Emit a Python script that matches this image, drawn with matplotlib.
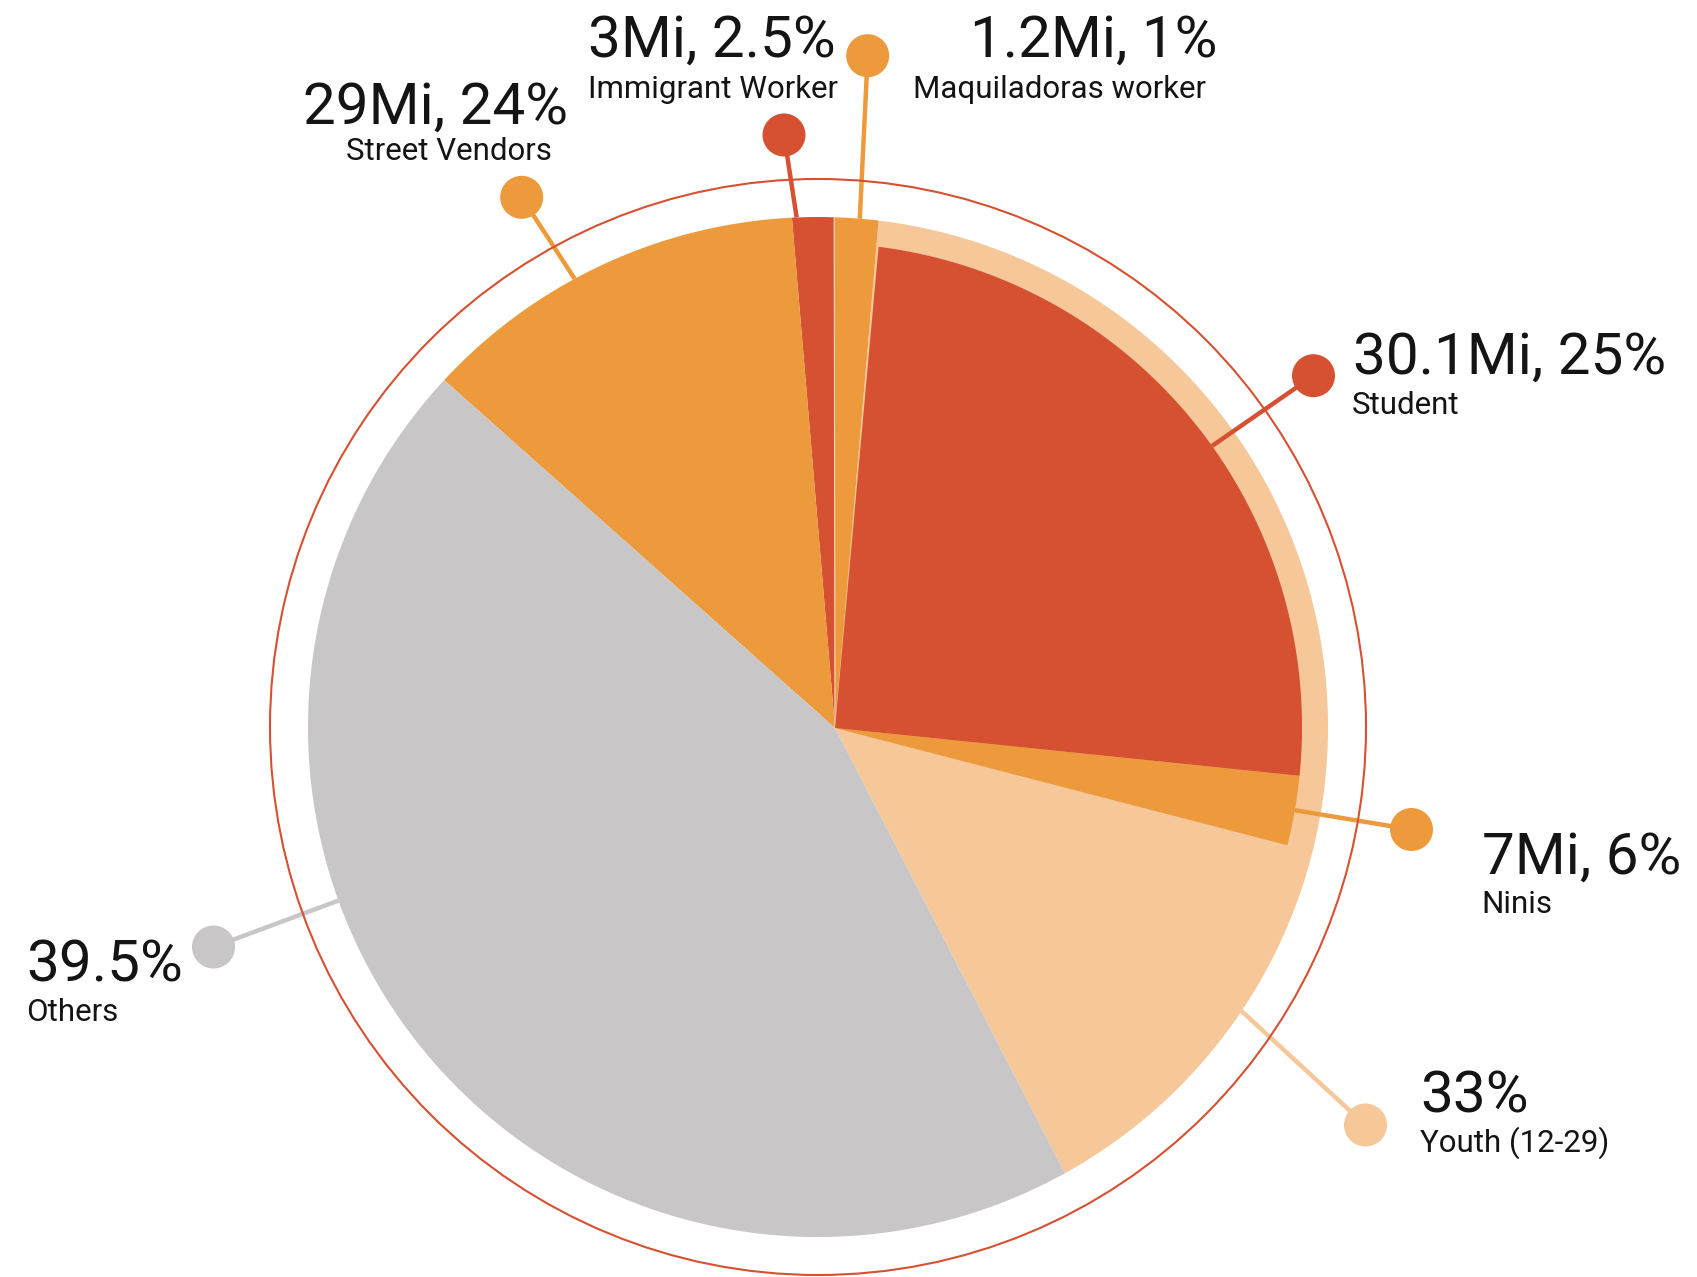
import numpy as np
import matplotlib
matplotlib.use("Agg")
import matplotlib.pyplot as plt
from matplotlib.patches import Polygon, Circle

# slice shares as drawn (percent of a full turn), going counter-clockwise
# from the Others / Youth edge
outer_labels = ["Youth (12-29)", "Maquiladoras worker", "Immigrant Worker", "Street Vendors", "Others"]
outer_values = ["33%", "1.2Mi, 1%", "3Mi, 2.5%", "29Mi, 24%", "39.5%"]
outer_share = [40.06, 1.39, 1.32, 12.28, 44.95]

# the two slices that sit on top of the Youth slice
inner_labels = ["Ninis", "Student"]
inner_values = ["7Mi, 6%", "30.1Mi, 25%"]
inner_share = [2.32, 24.61]

GREY = "#C8C6C7"
ORANGE = "#EC9A3C"
RED = "#D55131"
PEACH = "#F5C799"
outer_colors = [PEACH, ORANGE, RED, ORANGE, GREY]
inner_colors = [ORANGE, RED]

# geometry in pixels (y grows downwards)
O = (818, 727)      # centre of the arcs
P = (835, 728)      # point where the slices meet
R_OUT, R_IN, R_RING = 510, 484, 548
START_OUT, START_IN = -61.04, -14.14

# label: (leader angle, leader radius, dot xy, value xy, name xy)
callouts = {
    "Street Vendors": (118.5, R_OUT, (521.7, 197.3), (302.7, 123.3), (346, 160)),
    "Immigrant Worker": (92.4, R_OUT, (784, 135), (588, 56.7), (588, 98.3)),
    "Maquiladoras worker": (85.3, R_OUT, (867.7, 55.7), (970, 56.7), (913.3, 98.3)),
    "Student": (35.5, R_IN, (1313.5, 375.7), (1352.7, 374), (1351.7, 414)),
    "Ninis": (-9.9, R_IN, (1411.5, 829.5), (1481.7, 873.3), (1481.7, 912.7)),
    "Youth (12-29)": (-33.85, R_OUT, (1365.5, 1125), (1420, 1112.7), (1420, 1151.7)),
    "Others": (199.9, R_OUT, (213.5, 947), (26.7, 981.7), (26, 1021)),
}


def arc_pt(a, r):
    t = np.radians(a)
    return O[0] + r * np.cos(t), O[1] - r * np.sin(t)


def slice_poly(a1, a2, r):
    t = np.radians(np.linspace(a1, a2, 300))
    xs = np.r_[P[0], O[0] + r * np.cos(t)]
    ys = np.r_[P[1], O[1] - r * np.sin(t)]
    return np.column_stack([xs, ys])


fig = plt.figure(figsize=(16.97, 12.77), dpi=100)
ax = fig.add_axes([0, 0, 1, 1])
ax.set_xlim(0, 1697)
ax.set_ylim(1277, 0)
ax.axis("off")

edges = START_OUT + np.cumsum([0] + outer_share) * 3.6
for i in range(len(outer_share)):
    ax.add_patch(Polygon(slice_poly(edges[i], edges[i + 1], R_OUT),
                         closed=True, fc=outer_colors[i], ec="none", zorder=1))
# thin light seam between the two small top slices
sx, sy = arc_pt(edges[2], R_OUT)
ax.plot([P[0], sx], [P[1], sy], color="#F3D9BF", lw=0.8, zorder=1.5)

edges_in = START_IN + np.cumsum([0] + inner_share) * 3.6
for i in range(len(inner_share)):
    ax.add_patch(Polygon(slice_poly(edges_in[i], edges_in[i + 1], R_IN),
                         closed=True, fc=inner_colors[i], ec="none", zorder=2))

ax.add_patch(Circle(O, R_RING, fill=False, ec=RED, lw=1.5, zorder=5))

colors = dict(zip(outer_labels + inner_labels, outer_colors + inner_colors))
values = dict(zip(outer_labels + inner_labels, outer_values + inner_values))
font = "Roboto"
for name, (ang, rad, dot, vxy, nxy) in callouts.items():
    c = colors[name]
    x0, y0 = arc_pt(ang, rad)
    ax.plot([x0, dot[0]], [y0, dot[1]], color=c, lw=3.2, solid_capstyle="butt", zorder=3)
    ax.add_patch(Circle(dot, 21.5, fc=c, ec="none", zorder=4))
    ax.text(vxy[0], vxy[1], values[name], fontsize=42, family=font,
            color="#141414", ha="left", va="baseline")
    ax.text(nxy[0], nxy[1], name, fontsize=22.5, family=font,
            color="#141414", ha="left", va="baseline")

fig.savefig("out.png", dpi=100, facecolor="white")
